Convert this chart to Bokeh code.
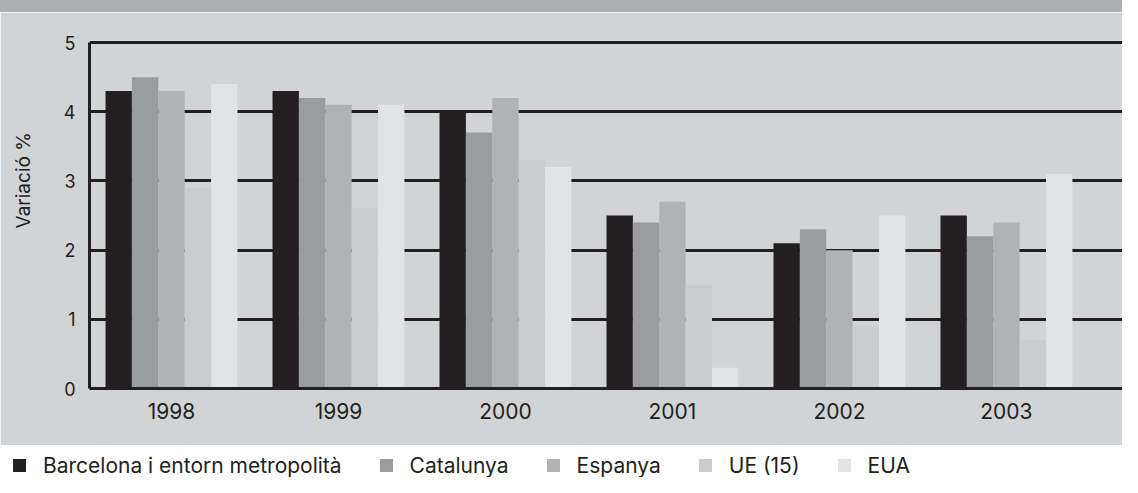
from bokeh.plotting import figure
from bokeh.models import ColumnDataSource, Range1d, FixedTicker, Title, Div
from bokeh.transform import dodge
from bokeh.layouts import column
from bokeh.embed import file_html
from bokeh.resources import INLINE

# ---- data ----
years = ["1998", "1999", "2000", "2001", "2002", "2003"]
barcelona = [4.3, 4.3, 4.0, 2.5, 2.1, 2.5]
catalunya = [4.5, 4.2, 3.7, 2.4, 2.3, 2.2]
espanya = [4.3, 4.1, 4.2, 2.7, 2.0, 2.4]
ue15 = [2.9, 2.6, 3.3, 1.5, 0.9, 0.7]
eua = [4.4, 4.1, 3.2, 0.3, 2.5, 3.1]
series_names = ["Barcelona i entorn metropolità", "Catalunya", "Espanya", "UE (15)", "EUA"]
series_keys = ["bcn", "cat", "esp", "ue", "eua"]
series_colors = ["#231f20", "#9b9c9f", "#b1b2b4", "#cbcccd", "#e2e3e4"]
y_ticks = [0, 1, 2, 3, 4, 5]
y_title = "Variació %"

TXT = "#231f20"
PANEL = "#d2d3d5"
BAND = "#aeafb1"
FONT = "Inter"
W = 1122

src = ColumnDataSource(dict(x=list(range(len(years))), bcn=barcelona, cat=catalunya,
                            esp=espanya, ue=ue15, eua=eua))

# ---- top band ----
band = Div(text="", width=W, height=12, margin=0,
           styles={"background-color": BAND, "overflow": "hidden"})

# ---- main chart ----
p = figure(width=W, height=433, x_range=Range1d(-0.491, 5.695), y_range=Range1d(0, 5.03),
           output_backend="svg", toolbar_location=None,
           min_border_left=89, min_border_right=0, min_border_top=28, min_border_bottom=57,
           background_fill_color=PANEL, border_fill_color=PANEL, outline_line_color=None)

bw = 0.158
for k, (key, col) in enumerate(zip(series_keys, series_colors)):
    p.vbar(x=dodge("x", (k - 2) * bw, range=p.x_range), top=key, bottom=0, width=bw,
           source=src, fill_color=col, line_color=None)

p.xgrid.visible = False
p.ygrid.ticker = FixedTicker(ticks=y_ticks)
p.ygrid.grid_line_color = TXT
p.ygrid.grid_line_width = 3

p.xaxis.ticker = FixedTicker(ticks=list(range(len(years))))
p.xaxis.major_label_overrides = {i: y for i, y in enumerate(years)}
p.xaxis.axis_line_color = TXT
p.xaxis.axis_line_width = 3
p.xaxis.major_tick_in = 0
p.xaxis.major_tick_out = 0
p.xaxis.minor_tick_in = 0
p.xaxis.minor_tick_out = 0
p.xaxis.major_label_standoff = 14
p.xaxis.major_label_text_font = FONT
p.xaxis.major_label_text_font_size = "21px"
p.xaxis.major_label_text_color = TXT

p.yaxis.ticker = FixedTicker(ticks=y_ticks)
p.yaxis.bounds = (0, 5)
p.yaxis.axis_line_color = TXT
p.yaxis.axis_line_width = 3
p.yaxis.major_tick_in = 0
p.yaxis.major_tick_out = 0
p.yaxis.minor_tick_in = 0
p.yaxis.minor_tick_out = 0
p.yaxis.major_label_standoff = 14
p.yaxis.major_label_text_font = FONT
p.yaxis.major_label_text_font_size = "18px"
p.yaxis.major_label_text_color = TXT

# spacer panel between the axis and the vertical title
spacer = Title(text=" ", standoff=1, text_font=FONT, text_font_size="19px",
               text_font_style="normal")
p.add_layout(spacer, "left")
ytitle = Title(text=y_title, align="left", offset=160, standoff=0,
               text_font=FONT, text_font_size="19px", text_font_style="normal",
               text_color=TXT)
p.add_layout(ytitle, "left")

# ---- legend strip (built from the series lists) ----
item_html = []
for i, (name, col) in enumerate(zip(series_names, series_colors)):
    mr = "0" if i == len(series_names) - 1 else "38px"
    item_html.append(
        f'<span style="display:inline-flex;align-items:center;margin-right:{mr}">'
        f'<span style="display:inline-block;width:13px;height:13px;background:{col};'
        f'margin-right:17px"></span>{name}</span>'
    )
legend_html = (
    f'<div style="display:flex;align-items:center;box-sizing:border-box;height:32px;'
    f'padding:9px 0 0 13px;font-family:{FONT};font-size:21px;line-height:24px;'
    f'color:{TXT};white-space:nowrap">' + "".join(item_html) + "</div>"
)
legend = Div(text=legend_html, width=W, height=32, margin=0,
             styles={"background-color": "white", "overflow": "hidden"})

layout = column(band, p, legend, spacing=0)
open("out.html", "w").write(file_html(layout, INLINE))
